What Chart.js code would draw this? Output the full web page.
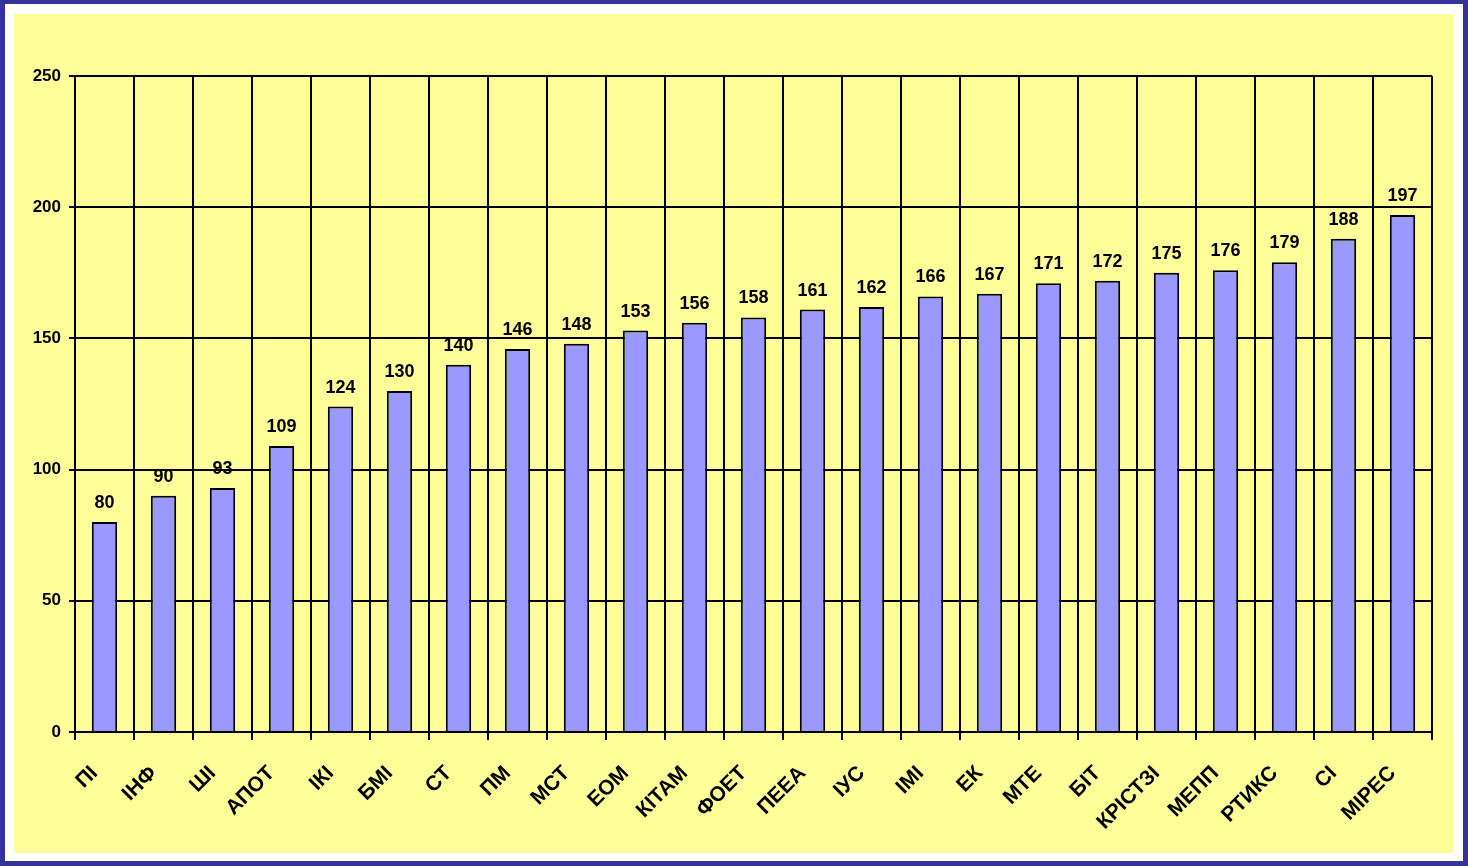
<!DOCTYPE html>
<html>
<head>
<meta charset="utf-8">
<script src="https://cdn.jsdelivr.net/npm/chart.js@4/dist/chart.umd.min.js"></script>
<style>
  html, body { margin: 0; padding: 0; background: #333399; }
  #outer { position: relative; width: 1468px; height: 866px; background: #333399; overflow: hidden; }
  #white { position: absolute; left: 5px; top: 4px; width: 1458px; height: 857px; background: #ffffff; }
  #yellow { position: absolute; left: 14px; top: 14px; width: 1439px; height: 839px; background: #ffff99; }
  canvas { display: block; }
</style>
</head>
<body>
<div id="outer">
  <div id="white"></div>
  <div id="yellow"><canvas id="c" width="1439" height="839"></canvas></div>
</div>
<script>
const categories = ['ПІ', 'ІНФ', 'ШІ', 'АПОТ', 'ІКІ', 'БМІ', 'СТ', 'ПМ', 'МСТ', 'ЕОМ', 'КІТАМ', 'ФОЕТ', 'ПЕЕА', 'ІУС', 'ІМІ', 'ЕК', 'МТЕ', 'БІТ', 'КРІСТЗІ', 'МЕПП', 'РТИКС', 'СІ', 'МІРЕС'];
const values = [80, 90, 93, 109, 124, 130, 140, 146, 148, 153, 156, 158, 161, 162, 166, 167, 171, 172, 175, 176, 179, 188, 197];
const yTicks = [0, 50, 100, 150, 200, 250];

const FONT = '"Liberation Sans", Arial, sans-serif';

const valueLabels = {
  id: 'valueLabels',
  afterDatasetsDraw(chart) {
    const ctx = chart.ctx;
    const meta = chart.getDatasetMeta(0);
    ctx.save();
    ctx.font = 'bold 18px ' + FONT;
    ctx.fillStyle = '#000000';
    ctx.textAlign = 'center';
    ctx.textBaseline = 'alphabetic';
    meta.data.forEach((bar, i) => {
      ctx.fillText(String(values[i]), bar.x, bar.y - 14);
    });
    ctx.restore();
  }
};

new Chart(document.getElementById('c'), {
  type: 'bar',
  data: {
    labels: categories,
    datasets: [{
      data: values,
      backgroundColor: '#9999ff',
      borderColor: '#000000',
      borderWidth: 2,
      categoryPercentage: 1.0,
      barPercentage: 0.43
    }]
  },
  options: {
    responsive: false,
    animation: false,
    layout: { padding: { top: 62, right: 21, left: 0, bottom: 0 } },
    plugins: { legend: { display: false }, tooltip: { enabled: false } },
    scales: {
      x: {
        afterFit(scale) { scale.height = 121; },
        grid: { color: '#000000', lineWidth: 2, tickLength: 8, offset: true, drawTicks: true },
        border: { color: '#000000', width: 2 },
        ticks: {
          color: '#000000',
          font: { family: FONT, size: 21, weight: 'bold' },
          maxRotation: 45, minRotation: 45, autoSkip: false, padding: 21, labelOffset: -10
        }
      },
      y: {
        min: 0, max: 250,
        afterFit(scale) { scale.width = 61; },
        afterBuildTicks(scale) { scale.ticks = yTicks.map(v => ({ value: v })); },
        grid: { color: '#000000', lineWidth: 2, tickLength: 6 },
        border: { color: '#000000', width: 2 },
        ticks: {
          color: '#000000',
          font: { family: FONT, size: 17, weight: 'bold' },
          padding: 8
        }
      }
    }
  },
  plugins: [valueLabels]
});
</script>
</body>
</html>
